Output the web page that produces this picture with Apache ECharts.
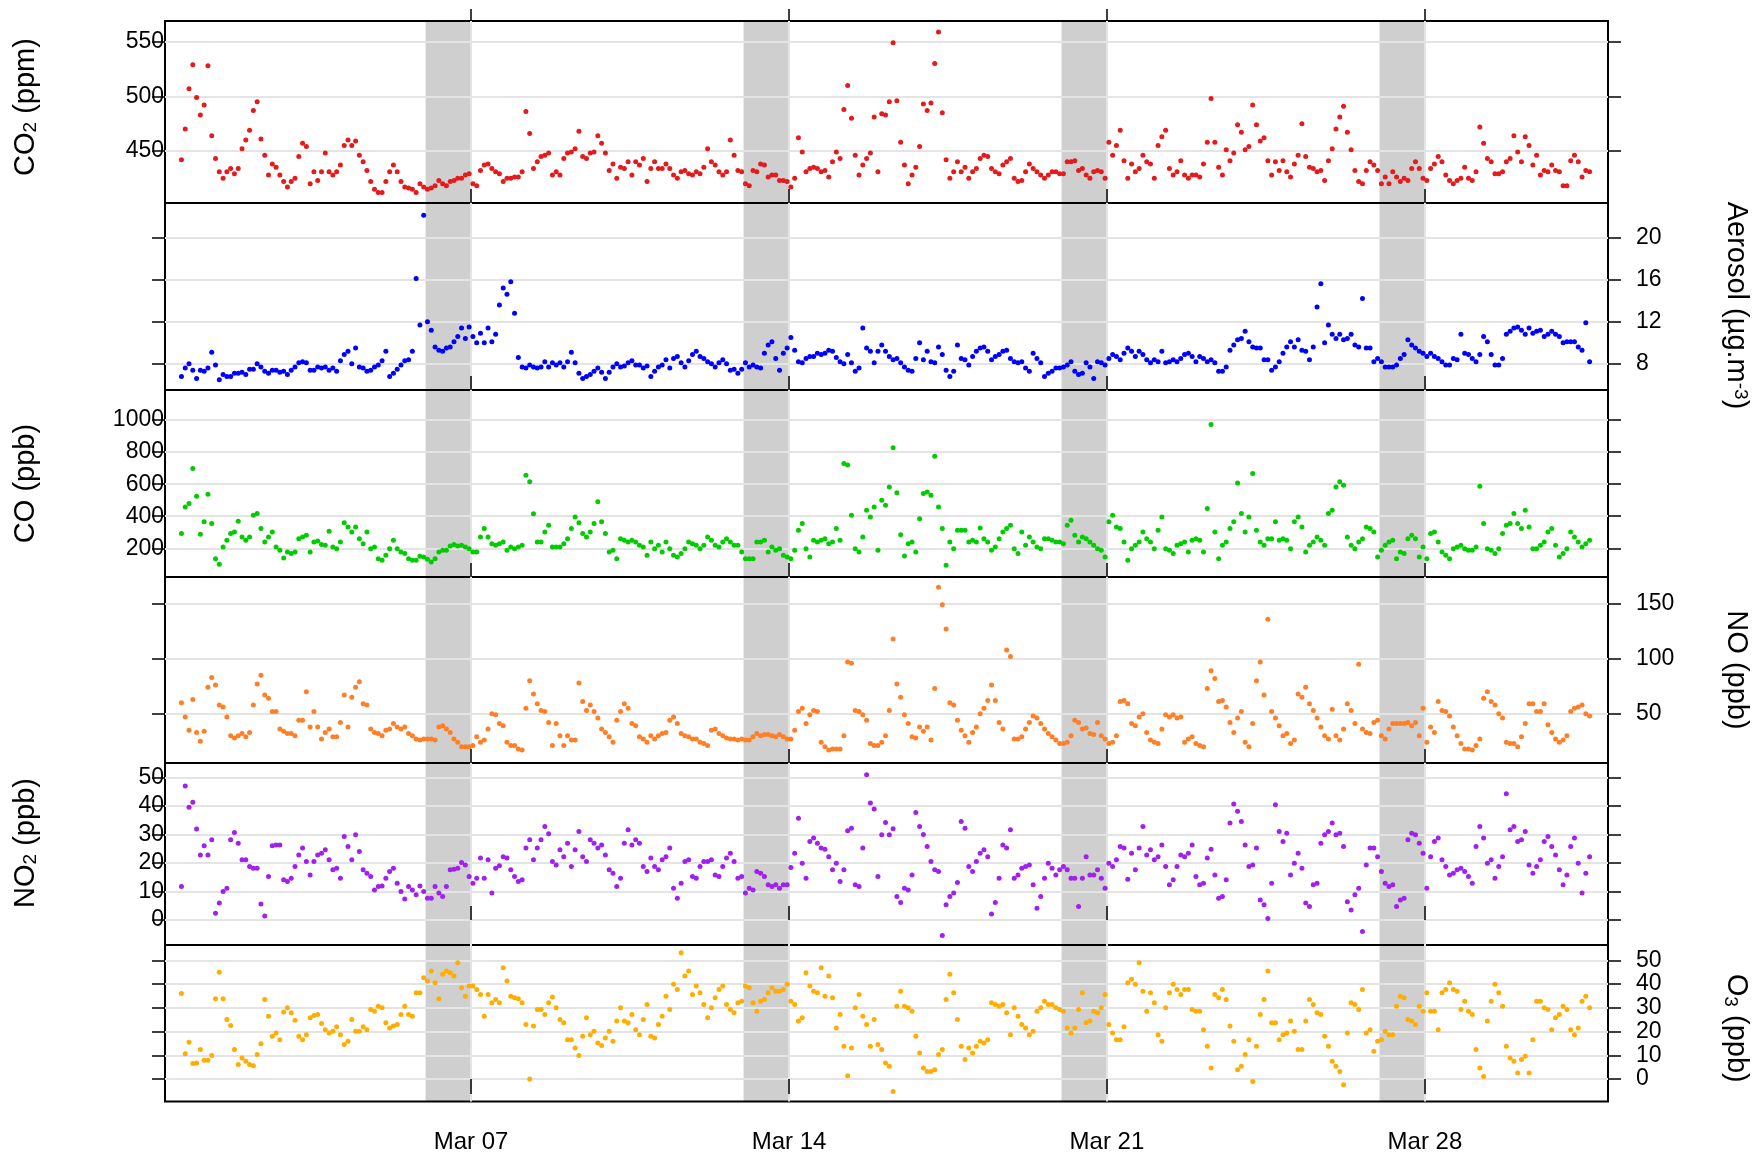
<!DOCTYPE html>
<html>
<head>
<meta charset="utf-8">
<title>Air quality, March</title>
<script src="https://cdn.jsdelivr.net/npm/echarts@6/dist/echarts.min.js"></script>
<style>
  html, body { margin: 0; padding: 0; background: #ffffff; }
  #chart { width: 1758px; height: 1157px; }
</style>
</head>
<body>
<div id="chart"></div>
<script>
// Two-hourly observations. Time is counted in days of March (1.0 = Mar 1, 00:00).
const firstSampleDay = 0.625;
const samplesPerDay = 12;

const co2 = [
  442, 470, 507, 529, 499, 483, 492, 528, 464, 443, 431, 425,
  431, 434, 429, 434, 452, 460, 469, 487, 495, 461, 446, 428,
  438, 435, 428, 422, 417, 422, 425, 445, 457, 454, 420, 431,
  423, 431, 448, 431, 428, 431, 437, 455, 460, 455, 459, 446,
  440, 432, 422, 415, 412, 412, 422, 431, 437, 431, 422, 417,
  416, 415, 412, 420, 417, 415, 416, 418, 423, 420, 418, 422,
  423, 425, 425, 428, 429, 420, 418, 432, 437, 438, 434, 431,
  429, 422, 425, 425, 426, 426, 431, 486, 466, 434, 440, 445,
  446, 448, 428, 431, 428, 443, 448, 449, 452, 468, 445, 443,
  448, 449, 464, 457, 448, 432, 438, 425, 435, 434, 440, 428,
  440, 437, 443, 422, 434, 440, 434, 434, 438, 434, 428, 425,
  431, 432, 429, 428, 431, 429, 435, 452, 440, 437, 431, 428,
  431, 460, 446, 432, 431, 420, 418, 432, 431, 438, 437, 426,
  428, 428, 423, 423, 422, 417, 425, 462, 449, 431, 434, 435,
  434, 431, 432, 426, 440, 449, 443, 488, 510, 480, 446, 428,
  437, 443, 448, 481, 431,
  484, 483, 495, 549, 496, 458, 437, 420, 428, 435, 454, 493,
  487, 494, 530, 559, 485, 442, 425, 431, 440, 431, 435, 425,
  431, 434, 443, 446, 445, 434, 431, 429, 437, 440, 443, 425,
  422, 423, 431, 438, 434, 431, 428, 425, 428, 431, 431, 429,
  429, 440, 440, 441, 432, 434, 428, 425, 431, 432, 431, 425,
  458, 446, 455, 469, 441, 425, 438, 431, 434, 446, 440, 438,
  425, 455, 463, 469, 434, 428, 431, 441, 428, 425, 428, 428,
  426, 438, 458, 498, 458, 435, 428, 451, 441, 448, 474, 467,
  451, 454, 492, 474, 459, 462, 441, 428, 440, 432, 441, 431,
  426, 438, 446, 475, 445, 435, 434, 431, 432, 423, 441, 452,
  470, 481, 491, 467, 451, 432, 422, 420, 432, 440, 437, 432,
  420, 426, 420, 431, 426, 422, 425, 423, 434, 440, 434, 425,
  423, 434, 438, 445, 440, 428, 423, 420, 423, 425, 435, 425,
  423, 431, 472, 457, 443, 440, 429, 429, 431, 440, 443, 464,
  449, 440, 463, 455, 437, 446, 428, 432, 431, 437, 432, 431,
  418, 418, 441, 446, 440, 426, 432, 431
];

const aerosol = [
  6.8, 7.6, 8.0, 7.4, 6.6, 7.4, 7.3, 7.6, 9.1, 7.9, 6.5, 7.0,
  6.8, 6.8, 7.1, 7.1, 7.2, 7.0, 7.5, 7.5, 8.0, 7.7, 7.3, 7.1,
  7.4, 7.4, 7.2, 7.3, 7.0, 7.4, 7.7, 8.1, 8.2, 8.1, 7.4, 7.4,
  7.7, 7.6, 7.7, 7.4, 7.6, 7.3, 8.3, 8.9, 9.2, 8.0, 9.5, 7.7,
  7.6, 7.3, 7.4, 7.7, 7.9, 8.3, 9.2, 6.8, 7.1, 7.5, 7.9, 8.3,
  8.4, 9.2, 16.1, 11.7, 22.1, 12.0, 11.2, 9.6, 9.3, 9.2, 9.5, 9.6,
  10.1, 10.6, 11.4, 10.4, 11.5, 10.6, 10.0, 10.9, 10.0, 11.4, 10.1, 10.8,
  13.6, 15.2, 14.6, 15.8, 12.8, 8.6, 7.7, 7.6, 7.9, 7.7, 7.6, 7.7,
  8.2, 7.7, 8.1, 7.9, 8.1, 7.7, 8.2, 9.1, 8.1, 7.1, 6.6, 6.8,
  7.0, 7.3, 7.6, 7.2, 6.6, 7.2, 7.7, 8.0, 7.7, 7.8, 8.1, 8.3,
  7.9, 7.9, 7.6, 7.8, 6.8, 7.3, 7.7, 7.9, 8.4, 7.6, 8.5, 8.7,
  8.1, 7.7, 8.3, 8.9, 9.2, 8.7, 8.5, 8.2, 8.0, 7.7, 8.1, 8.4,
  8.0, 7.4, 7.5, 7.1, 7.5, 8.1, 7.7, 7.9, 7.7, 7.6, 9.0, 9.8,
  10.1, 8.5, 7.4, 9.0, 9.5, 10.5, 9.3, 8.2, 8.1, 8.5, 8.7, 8.7,
  9.0, 8.9, 9.0, 9.3, 9.2, 8.6, 8.2, 8.0, 8.9, 8.1, 7.3, 7.6,
  11.4, 9.5, 9.2, 8.1, 9.2,
  9.8, 9.2, 8.7, 8.4, 8.5, 8.1, 7.7, 7.4, 7.3, 8.5, 10.0, 8.4,
  9.2, 8.2, 8.1, 9.6, 8.9, 7.4, 6.8, 7.3, 9.8, 8.5, 8.4, 7.9,
  8.7, 9.2, 9.5, 9.6, 9.2, 8.4, 8.7, 8.9, 9.2, 9.3, 8.5, 8.2,
  8.1, 8.2, 7.6, 7.3, 9.0, 8.5, 8.1, 6.8, 7.1, 7.3, 7.6, 7.6,
  7.7, 7.9, 8.2, 7.3, 7.0, 7.1, 8.1, 7.7, 6.6, 8.2, 8.1, 7.9,
  8.5, 8.9, 8.7, 8.4, 9.0, 9.5, 9.2, 8.7, 9.2, 8.9, 8.4, 8.1,
  8.4, 8.2, 9.2, 8.1, 8.2, 8.4, 8.2, 8.5, 8.9, 9.0, 8.7, 8.2,
  8.7, 8.5, 8.2, 8.4, 8.1, 7.3, 7.3, 7.7, 9.3, 9.8, 10.3, 10.4,
  11.1, 10.1, 9.6, 9.5, 9.5, 8.4, 8.4, 7.4, 7.7, 8.2, 9.0, 9.6,
  10.1, 9.6, 10.3, 9.3, 9.2, 8.4, 9.6, 13.4, 15.6, 10.0, 11.7, 10.8,
  10.4, 10.8, 10.3, 10.4, 10.8, 9.8, 9.6, 14.2, 9.5, 9.5, 8.2, 8.5,
  8.2, 7.7, 7.7, 7.7, 7.9, 8.5, 8.9, 10.3, 9.8, 9.5, 9.2, 9.0,
  8.7, 9.0, 8.7, 8.5, 8.2, 7.9, 7.9, 8.5, 8.4, 10.8, 9.0, 8.9,
  8.5, 8.2, 8.9, 10.6, 10.1, 8.9, 7.9, 7.9, 8.5, 10.8, 11.1, 11.4,
  11.5, 11.2, 10.8, 11.4, 10.9, 11.1, 11.2, 10.6, 10.8, 11.1, 10.8, 10.6,
  10.0, 10.1, 10.1, 10.1, 9.6, 9.3, 11.9, 8.2
];

const co = [
  292, 458, 479, 698, 525, 287, 365, 537, 354, 135, 100, 208,
  250, 292, 302, 369, 271, 250, 271, 406, 417, 323, 240, 271,
  302, 208, 188, 140, 177, 167, 177, 260, 271, 281, 177, 240,
  246, 223, 219, 306, 208, 198, 240, 360, 333, 302, 333, 260,
  229, 302, 198, 208, 135, 125, 156, 198, 250, 198, 177, 167,
  135, 125, 125, 150, 146, 131, 115, 135, 177, 188, 188, 215,
  223, 215, 219, 208, 198, 177, 177, 271, 323, 271, 229, 219,
  229, 240, 188, 208, 198, 208, 219, 656, 615, 415, 240, 240,
  302, 344, 208, 208, 208, 229, 260, 323, 396, 360, 292, 271,
  302, 354, 490, 365, 292, 177, 188, 135, 260, 250, 240, 250,
  240, 219, 208, 156, 240, 198, 219, 177, 240, 198, 156, 146,
  167, 198, 240, 229, 219, 198, 219, 271, 250, 219, 208, 240,
  260, 240, 219, 219, 177, 135, 135, 135, 240, 240, 250, 177,
  208, 188, 198, 156, 146, 135, 188, 312, 354, 198, 146, 250,
  240, 250, 260, 229, 240, 323, 250, 729, 719, 406, 198, 177,
  271, 437, 396, 458, 188,
  500, 469, 583, 827, 546, 285, 152, 229, 240, 177, 385, 542,
  552, 531, 775, 458, 323, 94, 240, 198, 312, 312, 312, 240,
  250, 240, 327, 260, 240, 188, 208, 260, 302, 323, 344, 198,
  167, 302, 219, 271, 240, 208, 198, 260, 260, 250, 240, 240,
  229, 344, 375, 281, 240, 271, 260, 240, 219, 198, 188, 146,
  365, 406, 333, 323, 240, 125, 198, 219, 240, 302, 260, 240,
  198, 312, 396, 198, 188, 167, 219, 229, 240, 177, 250, 260,
  250, 177, 448, 973, 302, 135, 219, 240, 323, 365, 608, 417,
  302, 396, 667, 312, 240, 219, 260, 260, 365, 250, 260, 250,
  198, 365, 396, 333, 177, 219, 240, 271, 250, 219, 417, 437,
  583, 615, 594, 271, 219, 198, 240, 260, 333, 323, 302, 146,
  188, 219, 240, 250, 135, 177, 167, 260, 281, 260, 146, 208,
  135, 292, 302, 240, 177, 156, 135, 198, 208, 219, 198, 188,
  188, 208, 587, 354, 198, 188, 167, 198, 292, 344, 354, 417,
  354, 323, 437, 333, 198, 198, 219, 240, 302, 323, 219, 146,
  167, 198, 302, 271, 240, 208, 229, 250
];

const no = [
  60, 47, 35, 63, 33, 25, 34, 74, 83, 76, 58, 56,
  47, 30, 28, 30, 32, 29, 33, 58, 77, 85, 67, 64,
  52, 52, 36, 34, 32, 32, 30, 44, 44, 70, 38, 52,
  38, 27, 33, 36, 29, 29, 42, 67, 38, 65, 74, 79,
  59, 58, 36, 33, 32, 30, 35, 36, 41, 38, 36, 38,
  32, 30, 27, 26, 27, 27, 27, 26, 38, 39, 36, 33,
  27, 24, 20, 20, 20, 21, 29, 24, 26, 36, 50, 49,
  41, 39, 24, 21, 21, 18, 17, 55, 80, 68, 59, 53,
  52, 42, 21, 41, 30, 21, 30, 26, 26, 78, 61, 53,
  58, 52, 46, 36, 33, 29, 24, 44, 52, 59, 55, 41,
  39, 29, 27, 24, 30, 27, 30, 32, 33, 44, 47, 41,
  32, 30, 29, 27, 27, 24, 23, 21, 35, 36, 32, 30,
  28, 27, 27, 26, 27, 26, 26, 29, 32, 30, 31, 31,
  30, 29, 31, 29, 27, 27, 35, 52, 55, 41, 49, 53,
  52, 24, 20, 17, 18, 18, 18, 30, 97, 96, 53, 52,
  49, 44, 23, 21, 21,
  24, 30, 53, 118, 77, 65, 49, 41, 29, 28, 38, 34,
  38, 26, 73, 165, 149, 127, 60, 58, 44, 35, 30, 24,
  33, 38, 50, 55, 62, 76, 62, 42, 36, 108, 102, 27,
  27, 29, 36, 42, 48, 46, 41, 36, 32, 29, 26, 23,
  23, 24, 30, 44, 42, 36, 37, 32, 31, 42, 30, 27,
  23, 24, 30, 61, 62, 59, 41, 39, 47, 50, 33, 26,
  24, 23, 36, 49, 47, 49, 46, 47, 24, 27, 29, 23,
  21, 20, 73, 89, 82, 61, 62, 56, 42, 33, 46, 52,
  24, 20, 41, 80, 97, 67, 136, 52, 46, 39, 30, 32,
  23, 26, 68, 65, 74, 59, 53, 46, 38, 30, 27, 54,
  30, 26, 36, 59, 53, 41, 95, 36, 33, 32, 42, 44,
  30, 27, 36, 41, 41, 41, 41, 42, 39, 42, 30, 55,
  24, 38, 33, 61, 53, 52, 48, 38, 30, 23, 18, 18,
  17, 21, 27, 64, 70, 61, 58, 50, 46, 24, 23, 23,
  20, 29, 41, 59, 59, 52, 52, 59, 40, 33, 27, 24,
  26, 30, 52, 55, 56, 58, 50, 48
];

const no2 = [
  11.7, 47, 39.5, 41.3, 31.9, 22.8, 26, 22.8, 28.1, 2.3, 5.9, 10,
  11.1, 28.1, 30.7, 26.9, 21.1, 21.1, 18.7, 18.1, 18.1, 5.6, 1.4, 15.2,
  26, 26.3, 26.3, 14.1, 13.5, 14.6, 18.7, 22.8, 25.2, 20.5, 15.8, 20.5,
  22.8, 23.4, 24.6, 21.1, 17.6, 18.1, 14.6, 29.3, 25.8, 21.1, 29.9, 24,
  17.6, 16.4, 15.2, 10.5, 11.7, 11.9, 14.6, 17, 18.1, 12.9, 10, 7.3,
  11.7, 10.5, 8.8, 11.9, 10, 7.6, 7.6, 11.7, 9.4, 8.2, 11.7, 17.6,
  17.8, 18.1, 20.1, 19.3, 15.2, 12.9, 14.6, 21.7, 14.6, 21.1, 9.4, 18.1,
  19, 22.2, 21.7, 17.6, 15.2, 13.5, 14.1, 25.2, 28.1, 21.1, 25.2, 28.1,
  32.8, 30.2, 20.5, 19.3, 24.6, 22.2, 26.9, 18.7, 24.6, 31, 22.2, 20.5,
  28.1, 26.9, 25.2, 26.3, 22.8, 17.6, 16.4, 11.7, 14.6, 26.9, 31.6, 26.3,
  28.1, 26.9, 18.7, 17, 21.7, 18.7, 17.6, 21.1, 22.2, 25.2, 11.1, 7.6,
  12.9, 20.5, 21.1, 15.2, 14.6, 18.7, 20.5, 20.5, 21.1, 15.8, 15.2, 18.7,
  21.7, 23.4, 20.5, 14.6, 15.2, 9.4, 11.1, 10.5, 17, 16.4, 15.2, 12.3,
  11.7, 12.3, 11.1, 12.3, 12.3, 18.4, 23.4, 35.7, 19.9, 14.6, 27.5, 28.7,
  26.9, 25.2, 24.8, 22.2, 17.6, 19.9, 13.5, 17.6, 31.3, 32.2, 12.3, 11.7,
  25.2, 50.9, 41, 38.9, 15.2,
  29.9, 34.2, 29.9, 32, 8.2, 6.1, 11.1, 10.5, 15.8, 37.7, 32.8, 30,
  25.8, 20.5, 17.6, 17, -5.5, 5.3, 8.2, 9.4, 13.1, 34.5, 32.2, 18.7,
  17, 20.5, 23.4, 24.6, 22.2, 2.1, 6.1, 14.6, 26.3, 25.2, 31.6, 14.6,
  15.8, 18.1, 18.7, 19.3, 12.3, 4.1, 8.2, 14.6, 19.9, 18.1, 15.8, 17.6,
  18.7, 17.6, 14.6, 14.6, 4.7, 14.6, 22.2, 15.8, 15.8, 17.6, 14.6, 11.1,
  19.9, 18.7, 21.1, 25.8, 25.2, 14.3, 23.4, 17.6, 25.2, 32.8, 22.8, 24.6,
  21.1, 22.2, 26.3, 18.7, 12.3, 14.1, 18.7, 22.8, 22.2, 23.4, 26.3, 15.2,
  12.3, 12.9, 21.7, 24.8, 15.8, 7.6, 8.2, 14.1, 34, 40.7, 38.1, 34.5,
  26.3, 18.7, 19.3, 25.2, 7, 5.3, 0.5, 12.9, 40.4, 31, 27.5, 30.4,
  15.8, 19.9, 23.4, 18.1, 5.9, 4.7, 12.3, 12.9, 26.9, 29.9, 31, 34,
  29.9, 30.4, 25.8, 6.4, 3.5, 8.8, 11.1, -4.1, 19.3, 25.2, 25.2, 22.2,
  17, 12.9, 11.7, 12.3, 4.7, 7, 7.6, 28.1, 30.4, 29.9, 26.9, 23.4,
  11.1, 22.2, 27.5, 28.7, 21.1, 18.7, 15.8, 16.4, 17.6, 18.1, 17, 15.2,
  12.9, 25.8, 32.8, 28.7, 19.9, 21.1, 14.6, 18.7, 22.2, 44.3, 31.6, 32.8,
  27.5, 28.1, 31, 19.3, 16.4, 18.7, 21.1, 27.5, 29.3, 25.8, 22.8, 17.6,
  12.3, 15.8, 25.8, 28.7, 19.9, 9.4, 16.4, 22.2
];

const o3 = [
  36, 10.7, 15.5, 6.5, 6.8, 12.4, 7.9, 7.9, 9.9, 33.8, 45, 33.8,
  25.1, 22.5, 12.4, 6.1, 8.9, 7.5, 6.1, 5.6, 10.3, 14.9, 33.5, 26.5,
  18, 19.4, 16.6, 28.2, 30, 27.9, 24.8, 18, 16.6, 18.7, 25.8, 26.8,
  27.2, 23.4, 20.8, 19.4, 20.1, 22, 18.7, 14.5, 15.9, 25.1, 20.1, 20.1,
  22, 20.8, 29.3, 28.6, 30.7, 30, 23.7, 21.5, 22.3, 23, 27.2, 30.7,
  27.2, 26.5, 36.3, 36.3, 42.7, 41.3, 45.5, 40.6, 33.8, 44.1, 45.5, 44.8,
  43.4, 49, 38.5, 34.9, 39.2, 39.2, 37.7, 35.6, 26.5, 35.6, 32.1, 33.5,
  32.1, 46.9, 41.3, 34.9, 34.2, 33.8, 32.1, 23, 0, 22.3, 29.3, 29.3,
  27.2, 32.1, 34.6, 30, 25.1, 23.7, 16.6, 16.6, 13.1, 9.9, 18, 25.8,
  18.7, 20.1, 15.2, 14.1, 17.3, 20.1, 15.9, 24.4, 30, 24.4, 23.7, 27.2,
  20.8, 18.7, 25.1, 31.4, 18, 17.3, 23, 26.5, 34.9, 29.3, 39.9, 37.7,
  53.2, 43.4, 45.5, 35.6, 39.2, 36.3, 31.4, 25.8, 30, 34.2, 37.7, 39.2,
  31.4, 29.3, 27.9, 32.1, 32.8, 39.2, 38.5, 32.1, 28.6, 32.8, 33.5, 36.3,
  38.5, 37, 37, 37.7, 39.9, 32.8, 31.4, 24.4, 25.8, 44.8, 39.2, 37,
  36.3, 46.9, 34.9, 43.4, 34.2, 21.5, 27.2, 13.8, 1.4, 13.1, 30, 35.6,
  26.5, 23, 13.8, 25.1, 14.5,
  12.4, 6.8, 5.4, -5.2, 30.7, 37, 30.7, 30, 28.6, 18, 11, 4.6,
  3.2, 3.2, 3.9, 10.3, 12.4, 33.5, 44.1, 36.3, 25.1, 13.8, 8.2, 13.1,
  11, 13.8, 15.9, 15.2, 16.6, 32.1, 31.4, 30.7, 31.4, 27.9, 18.7, 30,
  26.5, 23, 21.5, 18.7, 20.1, 28.6, 30, 32.8, 31.4, 31.4, 30, 29.3,
  28.6, 21.5, 19.4, 21.5, 29.3, 36.3, 23.7, 24.4, 28.6, 27.9, 30, 35.6,
  23, 19.4, 16.6, 16.6, 22, 40.6, 42, 39.9, 49, 37, 28.6, 36.3,
  32.1, 18.7, 15.9, 30, 36.3, 39.9, 37.7, 35.6, 37.7, 37.7, 29.3, 28.6,
  28.6, 20.8, 13.8, 4.6, 35.6, 34.2, 37.7, 33.5, 22.3, 15.9, 3.9, 5.4,
  10.3, 16.6, -1, 13.8, 27.2, 33.5, 45.5, 23.7, 23.7, 16.6, 18.7, 19.4,
  24.4, 20.1, 12.4, 12.4, 24.4, 33.5, 31.4, 27.9, 27.2, 18, 13.8, 7.5,
  5.4, 3.2, -2.4, 19.4, 32.1, 31.4, 29.3, 37.7, 19.4, 20.8, 11.7, 15.9,
  16.6, 20.1, 18.7, 18.7, 30.7, 34.9, 34.2, 25.1, 24.4, 23, 30.7, 28.6,
  36.3, 28.6, 28.6, 20.8, 36.3, 37.7, 40.6, 37.7, 37, 29.3, 32.8, 28.6,
  27.2, 12.4, 4.6, 1.1, 24.4, 32.8, 39.9, 36.3, 30.7, 13.8, 8.9, 7.5,
  2.5, 8.2, 9.6, 2.5, 16.6, 32.8, 32.8, 30, 29.3, 20.8, 25.8, 27.2,
  30.7, 29.3, 20.8, 18.7, 21.5, 32.8, 34.9, 30
];

// Axis ticks and the shaded one-day periods
const weekTickDays = [7, 14, 21, 28];
const weekTickLabels = ['Mar 07', 'Mar 14', 'Mar 21', 'Mar 28'];
const shadedDayStarts = [6, 13, 20, 27];

const co2Ticks = [450, 500, 550];
const aerosolTicks = [8, 12, 16, 20];
const coTicks = [200, 400, 600, 800, 1000];
const noTicks = [50, 100, 150];
const no2Ticks = [0, 10, 20, 30, 40, 50];
const o3Ticks = [0, 10, 20, 30, 40, 50];

// ---- presentation ----
const FONT = '"Liberation Sans", Arial, Helvetica, sans-serif';
const TICK_FONT_SIZE = 23;
const TITLE_FONT_SIZE = 29;
const GRID_LINE = '#E4E4E4';
const BAND_FILL = '#CFCFCF';
const X_MIN = 0.263;
const X_MAX = 32.03;
const PLOT_LEFT = 165;
const PLOT_RIGHT = 150;

// rich styles for axis titles; "a" is the leading run, which may carry extra space
function titleRich(leadPad) {
  const base = { fontSize: TITLE_FONT_SIZE, fontFamily: FONT, color: '#000' };
  return {
    a: Object.assign({}, base, { padding: [0, 0, 0, leadPad] }),
    n: base,
    sub: { fontSize: 19, fontFamily: FONT, color: '#000', lineHeight: 10, verticalAlign: 'bottom' },
    sup: { fontSize: 19, fontFamily: FONT, color: '#000', lineHeight: 10, verticalAlign: 'top' }
  };
}

const panels = [
  { values: co2, ticks: co2Ticks, color: '#E41A1C', side: 'left', min: 402.3, max: 569,
    name: '{a|CO}{sub|2}{n| (ppm)}', lead: 10, top: 21, height: 182 },
  { values: aerosol, ticks: aerosolTicks, color: '#0000FF', side: 'right', min: 5.52, max: 23.27,
    name: '{a|Aerosol (µg.m}{sup|-3}{n|)}', lead: 18, top: 203, height: 187 },
  { values: co, ticks: coTicks, color: '#00CC00', side: 'left', min: 21, max: 1187.5,
    name: '{a|CO (ppb)}', lead: 0, top: 390, height: 187 },
  { values: no, ticks: noTicks, color: '#FF7F27', side: 'right', min: 5.2, max: 174.3,
    name: '{a|NO (ppb)}', lead: 0, top: 577, height: 186 },
  { values: no2, ticks: no2Ticks, color: '#A020F0', side: 'left', min: -8.8, max: 55.05,
    name: '{a|NO}{sub|2}{n| (ppb)}', lead: 22, top: 763, height: 182 },
  { values: o3, ticks: o3Ticks, color: '#FFAD00', side: 'right', min: -9.46, max: 56.46,
    name: '{a|O}{sub|3}{n| (ppb)}', lead: 10, top: 945, height: 156.5 }
];

const grid = [], xAxis = [], yAxis = [], series = [];

panels.forEach((p, i) => {
  const last = i === panels.length - 1;
  grid.push({
    left: PLOT_LEFT, right: PLOT_RIGHT, top: p.top, height: p.height,
    show: true, borderColor: '#000', borderWidth: 2, backgroundColor: 'transparent',
    outerBoundsMode: 'none', containLabel: false
  });

  const xIndex = xAxis.length;
  xAxis.push({
    type: 'value', gridIndex: i, min: X_MIN, max: X_MAX, position: 'bottom',
    axisLine: { show: false },
    axisTick: {
      show: true, inside: !last, length: last ? 15 : 14, customValues: weekTickDays,
      lineStyle: { color: '#000', width: 1.5 }
    },
    axisLabel: {
      show: last, customValues: weekTickDays, margin: 29,
      fontFamily: FONT, fontSize: 24, color: '#000',
      formatter: v => weekTickLabels[weekTickDays.indexOf(v)]
    },
    splitLine: { show: true, lineStyle: { color: GRID_LINE, width: 2 } }
  });
  if (i === 0) {
    xAxis.push({
      type: 'value', gridIndex: 0, min: X_MIN, max: X_MAX, position: 'top',
      axisLine: { show: false },
      axisTick: { show: true, inside: false, length: 12, customValues: weekTickDays,
                  lineStyle: { color: '#000', width: 1.5 } },
      axisLabel: { show: false },
      splitLine: { show: false }
    });
  }

  const labelLeft = p.side === 'left';
  const makeY = (position, showLabel, withGrid) => ({
    type: 'value', gridIndex: i, position, min: p.min, max: p.max,
    axisLine: { show: false },
    axisTick: { show: true, inside: false, length: 13, customValues: p.ticks,
                lineStyle: { color: '#000', width: 1.5 } },
    axisLabel: {
      show: showLabel, customValues: p.ticks, margin: position === 'left' ? 1 : 28,
      fontFamily: FONT, fontSize: TICK_FONT_SIZE, color: '#000', formatter: v => String(v)
    },
    splitLine: { show: withGrid, lineStyle: { color: GRID_LINE, width: 2 } },
    name: showLabel ? p.name : '',
    nameLocation: 'middle',
    nameGap: position === 'left' ? 125 : 113,
    nameRotate: position === 'left' ? 90 : -90,
    nameTextStyle: { fontFamily: FONT, fontSize: TITLE_FONT_SIZE, color: '#000', rich: titleRich(p.lead) }
  });
  const yLeftIndex = yAxis.length;
  yAxis.push(makeY('left', labelLeft, true));
  yAxis.push(makeY('right', !labelLeft, false));

  // shaded one-day bands, drawn beneath the grid lines
  series.push({
    type: 'custom', xAxisIndex: xIndex, yAxisIndex: yLeftIndex, z: -1, silent: true,
    encode: { x: [0, 1] },
    data: shadedDayStarts.map(d => [d, d + 1]),
    renderItem: (params, api) => {
      const cs = params.coordSys;
      const x0 = api.coord([api.value(0), p.min])[0];
      const x1 = api.coord([api.value(1), p.min])[0];
      return {
        type: 'rect',
        shape: { x: x0, y: cs.y, width: x1 - x0, height: cs.height },
        style: { fill: BAND_FILL }
      };
    }
  });

  series.push({
    type: 'scatter', xAxisIndex: xIndex, yAxisIndex: yLeftIndex, silent: true,
    symbol: 'circle', symbolSize: 5,
    itemStyle: { color: p.color, opacity: 1 },
    data: p.values.map((v, k) => [firstSampleDay + k / samplesPerDay, v])
  });
});

const chart = echarts.init(document.getElementById('chart'), null, { renderer: 'canvas' });
chart.setOption({
  animation: false,
  backgroundColor: '#ffffff',
  grid, xAxis, yAxis, series
});
</script>
</body>
</html>
